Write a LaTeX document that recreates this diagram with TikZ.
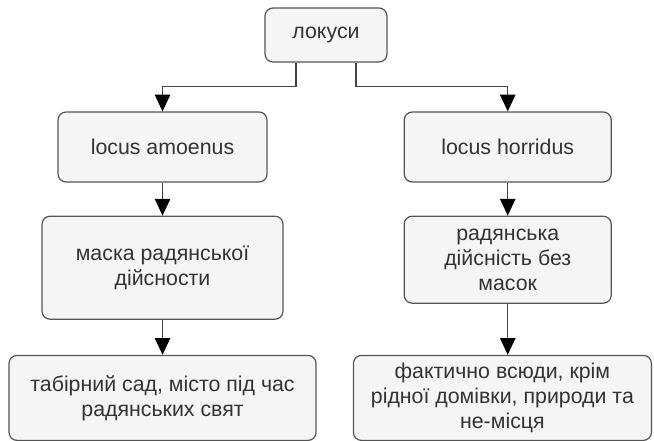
\documentclass[tikz,border=0pt]{standalone}
\usepackage{fontspec}
\setmainfont{Liberation Sans}
\usepackage{tikz}
\usetikzlibrary{arrows.meta, positioning, calc}
\usepackage{xcolor}
\definecolor{BoxFill}{HTML}{F5F5F5}
\definecolor{BoxBorder}{HTML}{555555}
\definecolor{TextGrey}{HTML}{333333}
\definecolor{LineGrey}{HTML}{444444}
\tikzset{
  % Rounded box
  block/.style={
    rectangle, draw=BoxBorder, line width=0.9pt,
    fill=BoxFill, text=TextGrey,
    align=center, rounded corners=6pt,
    inner sep=2pt,
    font=\fontsize{16}{18.75}\selectfont
  },
  % Arrow style
  arrow/.style={
    -{Triangle[length=12.5pt,width=11.5pt,color=black]},
    line width=0.9pt, draw=LineGrey
  }
}

\begin{document}
\begin{tikzpicture}

\useasboundingbox (0,0) rectangle (490.5pt,-330pt);

% Root
\node[block, minimum width=91.5pt, minimum height=40.5pt]
  (loci) at (244.5pt,-26.25pt) {локуси};

% Two kinds of place
\node[block, minimum width=156.75pt, minimum height=52.5pt]
  (amoenus) at (121.9pt,-110.25pt) {locus amoenus};

\node[block, minimum width=155.25pt, minimum height=52.5pt,
      right=102pt of amoenus] (horridus) {locus horridus};

% Second row
\node[block, minimum width=180.75pt, minimum height=77.25pt,
      below=24.75pt of amoenus] (soviet_mask)
  {маска радянської\\дійсности};

\node[block, minimum width=155.25pt, minimum height=65.25pt,
      below=24.75pt of horridus] (unmasked)
  {радянська\\дійсність без\\масок};

% Third row
\node[block, minimum width=230.25pt, minimum height=63.75pt,
      below=26.25pt of soviet_mask] (camp_garden)
  {табірний сад, місто під час\\радянських свят};

\node[block, minimum width=223.5pt, minimum height=63.75pt,
      below=38.25pt of unmasked, xshift=-4pt] (everywhere)
  {фактично всюди, крім\\рідної домівки, природи та\\не-місця};

% Arrows
\draw[arrow] ([xshift=-22.5pt]loci.south) -- ++(0,-18pt) -| (amoenus);
\draw[arrow] ([xshift=22.5pt]loci.south)  -- ++(0,-18pt) -| (horridus);
\draw[arrow] (amoenus)     -- (soviet_mask);
\draw[arrow] (soviet_mask) -- (camp_garden);
\draw[arrow] (horridus)    -- (unmasked);
\draw[arrow] (unmasked.south) -- (unmasked.south |- everywhere.north);

\end{tikzpicture}
\end{document}
